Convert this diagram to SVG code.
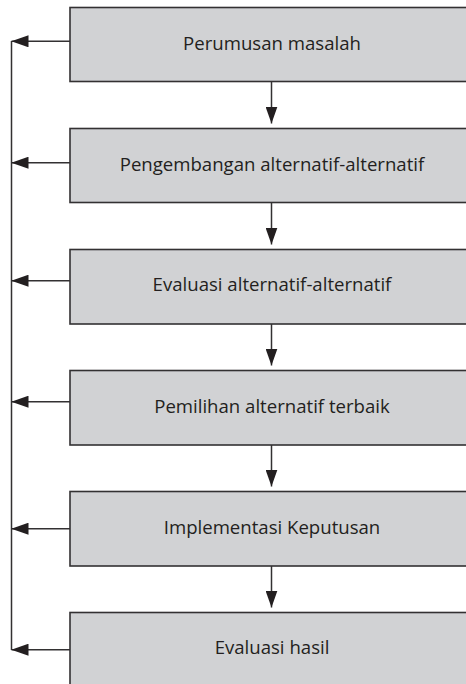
<svg xmlns="http://www.w3.org/2000/svg" width="466" height="684" viewBox="0 0 466 684">
  <defs>
    <style>
      .box { fill: #d1d2d4; stroke: #333132; stroke-width: 1.6; }
      .label { font-family: "Open Sans", "Noto Sans", sans-serif; font-size: 18.6px; fill: #231f20; text-anchor: middle; }
      .link { fill: none; stroke: #333132; stroke-width: 1.5; }
    </style>
    <marker id="head" viewBox="0 0 17 12" refX="17" refY="6" markerWidth="17" markerHeight="12" markerUnits="userSpaceOnUse" orient="auto">
      <path d="M0,0 L17,6 L0,12 Z" fill="#231f20"/>
    </marker>
  </defs>
  <rect width="466" height="684" fill="#ffffff"/>

  <g id="step-1">
    <rect class="box" x="70" y="7.5" width="402" height="74"/>
    <text class="label" x="272" y="50">Perumusan masalah</text>
  </g>
  <g id="step-2">
    <rect class="box" x="70" y="128.5" width="402" height="74"/>
    <text class="label" x="272" y="170.5">Pengembangan alternatif-alternatif</text>
  </g>
  <g id="step-3">
    <rect class="box" x="70" y="249.5" width="402" height="74.5"/>
    <text class="label" x="272" y="291">Evaluasi alternatif-alternatif</text>
  </g>
  <g id="step-4">
    <rect class="box" x="70" y="370.5" width="402" height="74.5"/>
    <text class="label" x="272" y="412.5">Pemilihan alternatif terbaik</text>
  </g>
  <g id="step-5">
    <rect class="box" x="70" y="491.5" width="402" height="74.5"/>
    <text class="label" x="272" y="533.5">Implementasi Keputusan</text>
  </g>
  <g id="step-6">
    <rect class="box" x="70" y="612.5" width="402" height="80"/>
    <text class="label" x="272" y="654">Evaluasi hasil</text>
  </g>

  <g id="connectors">
    <!-- feedback rail on the left -->
    <line class="link" x1="11.5" y1="41" x2="11.5" y2="650"/>
    <line class="link" x1="70" y1="41.3" x2="11.5" y2="41.3" marker-end="url(#head)"/>
    <line class="link" x1="70" y1="162.7" x2="11.5" y2="162.7" marker-end="url(#head)"/>
    <line class="link" x1="70" y1="280.7" x2="11.5" y2="280.7" marker-end="url(#head)"/>
    <line class="link" x1="70" y1="401.7" x2="11.5" y2="401.7" marker-end="url(#head)"/>
    <line class="link" x1="70" y1="528.7" x2="11.5" y2="528.7" marker-end="url(#head)"/>
    <line class="link" x1="70" y1="649.7" x2="11.5" y2="649.7" marker-end="url(#head)"/>
    <!-- downward flow between steps -->
    <line class="link" x1="271.5" y1="81.5" x2="271.5" y2="123.5" marker-end="url(#head)"/>
    <line class="link" x1="271.5" y1="202.5" x2="271.5" y2="244.5" marker-end="url(#head)"/>
    <line class="link" x1="271.5" y1="324" x2="271.5" y2="365.5" marker-end="url(#head)"/>
    <line class="link" x1="271.5" y1="445" x2="271.5" y2="486.5" marker-end="url(#head)"/>
    <line class="link" x1="271.5" y1="566" x2="271.5" y2="607.5" marker-end="url(#head)"/>
  </g>
</svg>
